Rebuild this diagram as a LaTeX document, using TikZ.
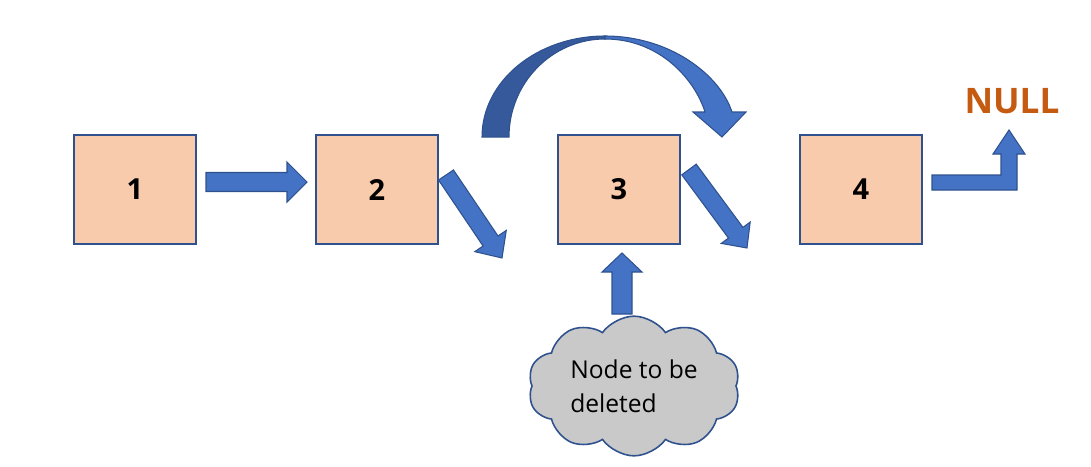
\documentclass[tikz,border=0pt]{standalone}
\usepackage{fontspec}
\setmainfont{Open Sans}
\usetikzlibrary{calc}
\usetikzlibrary{shapes}
\definecolor{cellfill}{HTML}{F8CBAD}
\definecolor{cellline}{HTML}{2F528F}
\definecolor{arrowfill}{HTML}{4472C4}
\definecolor{arrowdark}{HTML}{35599B}
\definecolor{nullorange}{HTML}{C55A11}
\definecolor{cloudgrey}{HTML}{C9C9C9}
\tikzset{
  cell/.style={draw=cellline, fill=cellfill, line width=1.1pt, minimum width=2.44cm, minimum height=2.18cm, inner sep=0pt, font=\fontsize{16.5}{19}\selectfont\bfseries},
  blockline/.style={draw=cellline, fill=arrowfill, line width=0.6pt, line join=miter},
}
% block arrow: start, tip, half shaft, half head, head length
\newcommand{\blockarrow}[5]{
  \coordinate (s) at (#1); \coordinate (t) at (#2);
  \coordinate (h) at ($(t)!#5!(s)$);
  \draw[blockline] ($(s)!#3!90:(t)$) -- ($(h)!#3!90:(t)$) -- ($(h)!#4!90:(t)$) -- (t)
    -- ($(h)!#4!-90:(t)$) -- ($(h)!#3!-90:(t)$) -- ($(s)!#3!-90:(t)$) -- cycle;}

\begin{document}
\begin{tikzpicture}
                \useasboundingbox (0,0) rectangle (21.82,-9.32);
                % list
                \node[cell] (b1) at (2.7,-3.79) {1};
                \node[cell] (b2) at (7.54,-3.79) {2};
                \node[cell] (b3) at (12.38,-3.79) {3};
                \node[cell] (b4) at (17.22,-3.79) {4};

                \node[text=nullorange, font=\fontsize{20}{24}\selectfont\bfseries] (null) at (20.24,-2.02) {NULL};

                % straight arrows
                \coordinate (a12s) at (4.12,-3.64);
                \coordinate (a12t) at (6.14,-3.64);
                \coordinate (a2s) at (8.92,-3.5);
                \coordinate (a2t) at (10.04,-5.16);
                \coordinate (a3s) at (13.78,-3.39);
                \coordinate (a3t) at (14.94,-4.96);
                \coordinate (updels) at (12.44,-6.28);
                \coordinate (updelt) at (12.44,-5.06);

                \blockarrow{a12s}{a12t}{0.19cm}{0.4cm}{0.4cm}
                \blockarrow{a2s}{a2t}{0.18cm}{0.38cm}{0.41cm}
                \blockarrow{a3s}{a3t}{0.18cm}{0.36cm}{0.38cm}
                \blockarrow{updels}{updelt}{0.2cm}{0.4cm}{0.38cm}

                % bent arrow to NULL
                \draw[blockline] (18.64,-3.5) -- (20.02,-3.5) -- (20.02,-3.08) -- (19.86,-3.08) -- (20.18,-2.6)
                  -- (20.5,-3.08) -- (20.34,-3.08) -- (20.34,-3.8) -- (18.64,-3.8) -- cycle;

                % curved arrow over 3
                \draw[blockline, fill=arrowdark] (9.64,-2.74) .. controls (9.64,-1.62) and (10.74,-0.72) .. (12.1,-0.72)
                  -- (12.1,-0.78) .. controls (11.04,-0.78) and (10.18,-1.66) .. (10.18,-2.74) -- cycle;
                \draw[blockline] (12.1,-0.72) .. controls (13.4,-0.72) and (14.4,-1.5) .. (14.64,-2.24)
                  -- (14.92,-2.24) -- (14.44,-2.74) -- (13.86,-2.24) -- (14.1,-2.24)
                  .. controls (13.9,-1.6) and (13.2,-0.78) .. (12.1,-0.78) -- cycle;

                % node to be deleted
                \node[cloud, draw=cellline, fill=cloudgrey, line width=0.9pt, cloud puffs=10, cloud puff arc=110, aspect=1.55,
                  minimum width=4.24cm, minimum height=2.74cm, inner xsep=0pt, inner ysep=-8pt, align=left,
                  font=\fontsize{14}{19.4}\selectfont] (del) at (12.68,-7.72) {Node to be\\deleted};
            \end{tikzpicture}
\end{document}
